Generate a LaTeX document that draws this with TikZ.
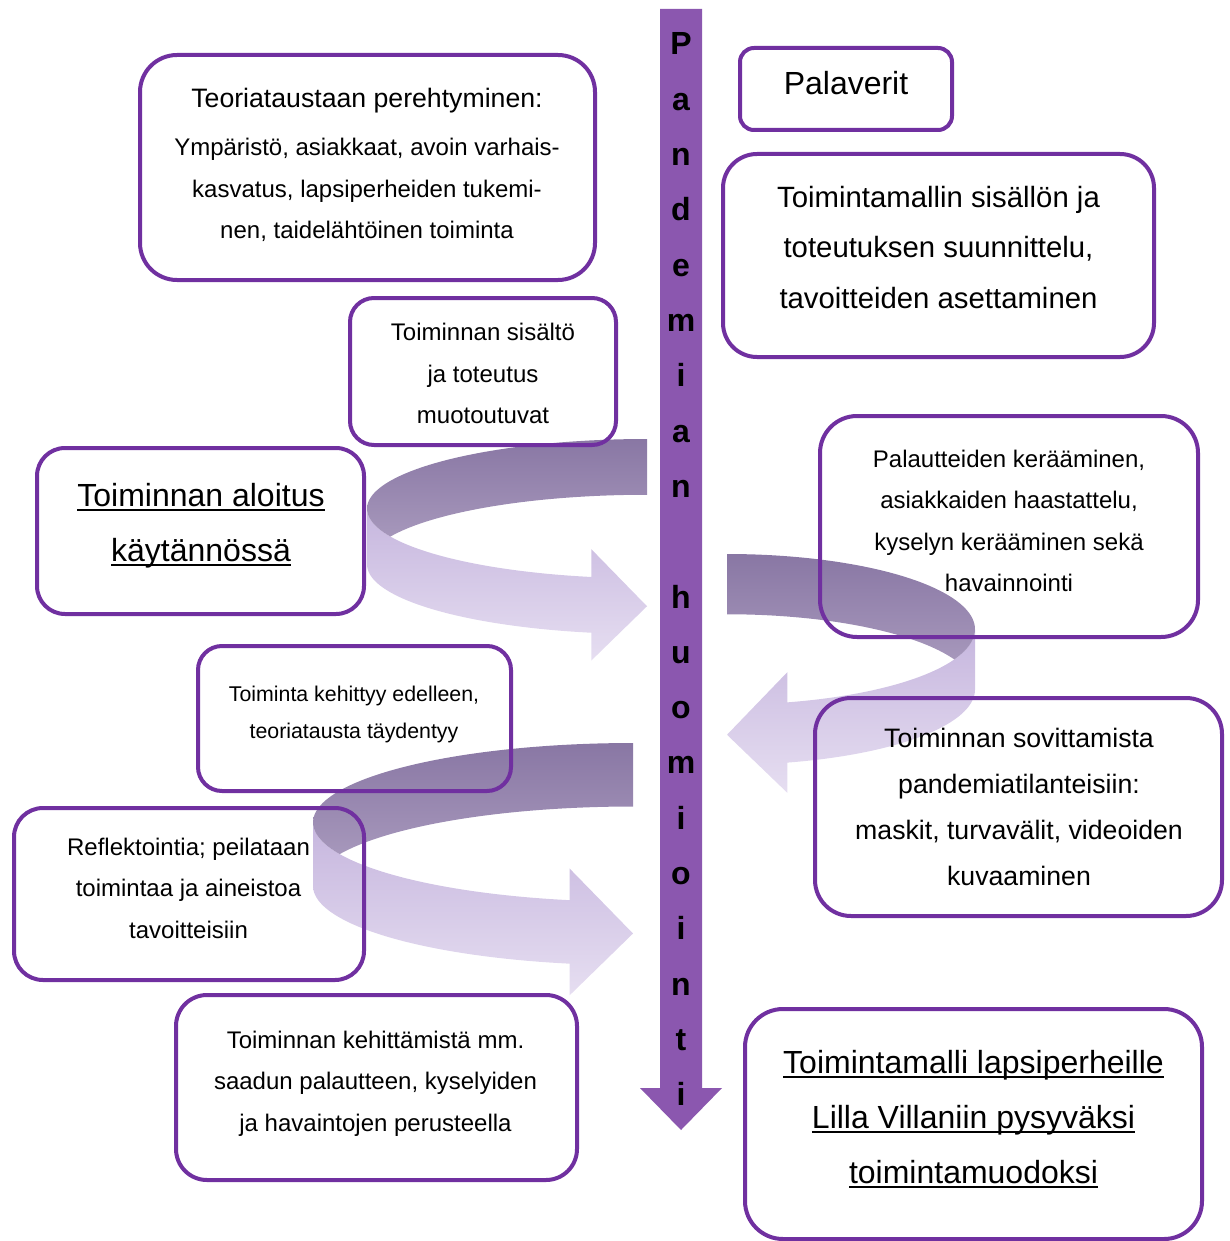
\documentclass[tikz,border=0pt]{standalone}
\usepackage{fontspec}
\setmainfont{Liberation Sans}
\definecolor{boxpurple}{RGB}{112,48,160}
\definecolor{axispurple}{RGB}{139,87,175}
\definecolor{frontTop}{RGB}{198,182,222}
\definecolor{frontBot}{RGB}{230,222,241}
\definecolor{backTop}{RGB}{137,119,164}
\definecolor{backBot}{RGB}{166,151,187}
\newcommand\myul[1]{\setbox0=\hbox{#1}\rlap{\rule[-0.17em]{\wd0}{0.075em}}\box0}
% rounded box: name, x1, y1, x2, y2, radius (px)
\newcommand\mybox[6]{%
  \pgfmathsetmacro\bw{(#4-#2)*0.75}%
  \pgfmathsetmacro\bh{(#5-#3)*0.75}%
  \pgfmathsetmacro\br{#6*0.75}%
  \node[rbox, minimum width=\bw pt, minimum height=\bh pt, rounded corners=\br pt] (#1) at ({(#2+#4)/2},{(#3+#5)/2}) {};}
% curved ribbon arrow: tip-side x, direction (+1 right, -1 left), width, top, bottom
\newcommand\curvarrow[5]{%
  \pgfmathsetmacro\qx{#1}\pgfmathsetmacro\qs{#2}\pgfmathsetmacro\qw{#3}%
  \pgfmathsetmacro\qt{#4}\pgfmathsetmacro\qb{#5}%
  \pgfmathsetmacro\qh{\qb-\qt}%
  \pgfmathsetmacro\qss{min(\qw,\qh)}%
  \pgfmathsetmacro\qth{0.25*\qss}\pgfmathsetmacro\qaw{0.5*\qss}\pgfmathsetmacro\qah{0.25*\qss}%
  \pgfmathsetmacro\qhr{\qh/2-(\qth+\qaw)/4}%
  \pgfmathsetmacro\qpi{acos(-\qth/(2*\qhr))}%
  \pgfmathsetmacro\qpj{180-\qpi}%
  \pgfmathsetmacro\qpa{180-asin(\qah/\qw)}%
  \pgfmathsetmacro\qxa{\qx-\qs*\qah}%
  \pgfmathsetmacro\qyf{\qt+\qhr-\qhr*cos(\qpa)}%
  \pgfmathsetmacro\qdh{(\qaw-\qth)/2}%
  \pgfmathsetmacro\qya{\qyf-\qdh}%
  \pgfmathsetmacro\qyb{\qyf+\qth+\qdh}%
  \pgfmathsetmacro\qytip{\qb-\qaw/2}%
  \path[top color=frontTop, bottom color=frontBot]
    plot[domain=90:\qpa, samples=60, variable=\p] ({\qx-\qs*\qw*sin(\p)},{\qt+\qhr-\qhr*cos(\p)})
    -- (\qxa,\qya) -- (\qx,\qytip) -- (\qxa,\qyb)
    -- plot[domain=\qpa:90, samples=60, variable=\p] ({\qx-\qs*\qw*sin(\p)},{\qt+\qth+\qhr-\qhr*cos(\p)})
    -- cycle;
  \path[top color=backTop, bottom color=backBot]
    plot[domain=0:\qpi, samples=70, variable=\p] ({\qx-\qs*\qw*sin(\p)},{\qt+\qhr-\qhr*cos(\p)})
    -- plot[domain=\qpj:0, samples=70, variable=\p] ({\qx-\qs*\qw*sin(\p)},{\qt+\qth+\qhr-\qhr*cos(\p)})
    -- cycle;}
\tikzset{
  rbox/.style={draw=boxpurple, line width=3pt, rectangle, inner sep=0pt},
  txt/.style={anchor=base, inner sep=0pt, align=center},
  letter/.style={anchor=base, inner sep=0pt, font=\fontsize{24}{24}\selectfont\bfseries},
}
\begin{document}
\begin{tikzpicture}[x=0.75pt, y=-0.75pt]
\useasboundingbox (0,0) rectangle (1229,1241);
% curved arrows
\curvarrow{647}{1}{280}{439}{662}
\curvarrow{727}{-1}{248}{554}{795}
\curvarrow{633}{1}{320}{743}{997}
% central time arrow
\fill[axispurple] (660,9) -- (702,9) -- (702,1088) -- (722,1088) -- (681,1130) -- (640,1088) -- (660,1088) -- cycle;
\foreach \c [count=\i from 0] in {P,a,n,d,e,m,i,a,n}
  \node[letter] (L\i) at (681,{55+\i*55.3}) {\c};
\foreach \c [count=\i from 10] in {h,u,o,m,i,o,i,n,t,i}
  \node[letter] (L\i) at (681,{55+\i*55.3}) {\c};
% boxes
\mybox{bA}{140}{55}{595}{280}{37}
\mybox{bPal}{740}{48}{952}{130}{14}
\mybox{bB}{723}{154}{1154}{357}{34}
\mybox{bC}{350}{298}{616}{445}{24}
\mybox{bD}{37}{448}{364}{614}{28}
\mybox{bE}{820}{416}{1198}{637}{37}
\mybox{bF}{198}{646}{511}{791}{24}
\mybox{bG}{815}{698}{1222}{916}{36}
\mybox{bH}{14}{808}{364}{980}{29}
\mybox{bI}{176}{995}{577}{1180}{31}
\mybox{bJ}{745}{1009}{1202}{1239}{38}
% texts
\node[txt, font=\fontsize{20}{24}\selectfont] (tA1) at (367,108) {Teoriataustaan perehtyminen:};
\node[txt, font=\fontsize{18}{22}\selectfont] (tA2) at (367,155.4) {Ympäristö, asiakkaat, avoin varhais-};
\node[txt, font=\fontsize{18}{22}\selectfont] (tA3) at (367,197.4) {kasvatus, lapsiperheiden tukemi-};
\node[txt, font=\fontsize{18}{22}\selectfont] (tA4) at (367,238.4) {nen, taidelähtöinen toiminta};
\node[txt, font=\fontsize{24}{28}\selectfont] (tPal) at (846,95) {Palaverit};
\node[txt, font=\fontsize{22}{26}\selectfont] (tB1) at (938.5,207.3) {Toimintamallin sisällön ja};
\node[txt, font=\fontsize{22}{26}\selectfont] (tB2) at (938.5,257.3) {toteutuksen suunnittelu,};
\node[txt, font=\fontsize{22}{26}\selectfont] (tB3) at (938.5,308.3) {tavoitteiden asettaminen};
\node[txt, font=\fontsize{18}{22}\selectfont] (tC1) at (483,340.4) {Toiminnan sisältö};
\node[txt, font=\fontsize{18}{22}\selectfont] (tC2) at (483,382.4) {ja toteutus};
\node[txt, font=\fontsize{18}{22}\selectfont] (tC3) at (483,423.4) {muotoutuvat};
\node[txt, font=\fontsize{24}{28}\selectfont] (tD1) at (201,506) {\myul{Toiminnan aloitus}};
\node[txt, font=\fontsize{24}{28}\selectfont] (tD2) at (201,561) {\myul{käytännössä}};
\node[txt, font=\fontsize{18}{22}\selectfont] (tE1) at (1009,467.4) {Palautteiden kerääminen,};
\node[txt, font=\fontsize{18}{22}\selectfont] (tE2) at (1009,508.4) {asiakkaiden haastattelu,};
\node[txt, font=\fontsize{18}{22}\selectfont] (tE3) at (1009,550.4) {kyselyn kerääminen sekä};
\node[txt, font=\fontsize{18}{22}\selectfont] (tE4) at (1009,591.4) {havainnointi};
\node[txt, font=\fontsize{16}{20}\selectfont] (tF1) at (354,701.5) {Toiminta kehittyy edelleen,};
\node[txt, font=\fontsize{16}{20}\selectfont] (tF2) at (354,738.5) {teoriatausta täydentyy};
\node[txt, font=\fontsize{20}{24}\selectfont] (tG1) at (1019,747.3) {Toiminnan sovittamista};
\node[txt, font=\fontsize{20}{24}\selectfont] (tG2) at (1019,793.3) {pandemiatilanteisiin:};
\node[txt, font=\fontsize{20}{24}\selectfont] (tG3) at (1019,839.3) {maskit, turvavälit, videoiden};
\node[txt, font=\fontsize{20}{24}\selectfont] (tG4) at (1019,885.3) {kuvaaminen};
\node[txt, font=\fontsize{18}{22}\selectfont] (tH1) at (188.5,855.4) {Reflektointia; peilataan};
\node[txt, font=\fontsize{18}{22}\selectfont] (tH2) at (188.5,896.4) {toimintaa ja aineistoa};
\node[txt, font=\fontsize{18}{22}\selectfont] (tH3) at (188.5,938.4) {tavoitteisiin};
\node[txt, font=\fontsize{18}{22}\selectfont] (tI1) at (375.5,1048.4) {Toiminnan kehittämistä mm.};
\node[txt, font=\fontsize{18}{22}\selectfont] (tI2) at (375.5,1089.4) {saadun palautteen, kyselyiden};
\node[txt, font=\fontsize{18}{22}\selectfont] (tI3) at (375.5,1131.4) {ja havaintojen perusteella};
\node[txt, font=\fontsize{24}{28}\selectfont] (tJ1) at (973.5,1073) {\myul{Toimintamalli lapsiperheille}};
\node[txt, font=\fontsize{24}{28}\selectfont] (tJ2) at (973.5,1128) {\myul{Lilla Villaniin pysyväksi}};
\node[txt, font=\fontsize{24}{28}\selectfont] (tJ3) at (973.5,1183) {\myul{toimintamuodoksi}};
\end{tikzpicture}
\end{document}
